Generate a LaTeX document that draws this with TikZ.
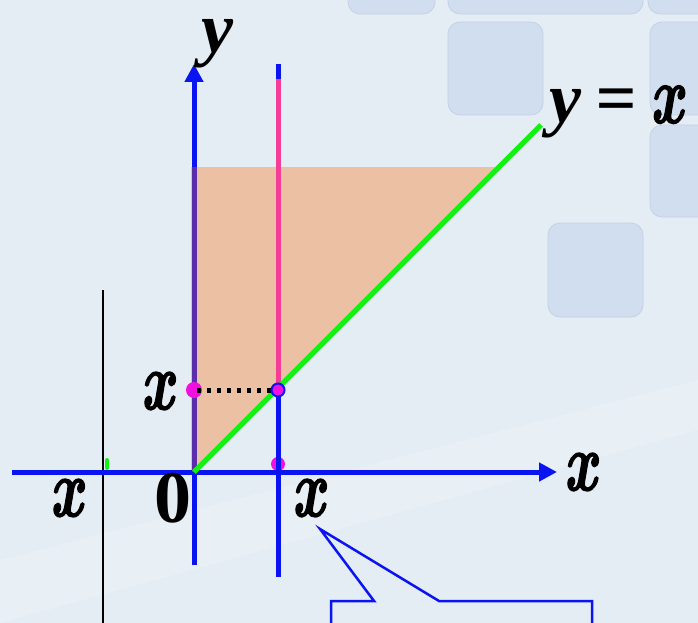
\documentclass[tikz,border=0pt]{standalone}
\usepackage{fontspec}
\newfontfamily\libfont{Liberation Serif}
\newfontfamily\lmxfont[FakeBold=1.6]{Latin Modern Roman}
\usetikzlibrary{arrows.meta}
\definecolor{bg}{HTML}{E4ECF4}
\definecolor{tile}{HTML}{D0DEEF}
\definecolor{tileedge}{HTML}{C2D2E4}
\definecolor{axisblue}{HTML}{0A14F0}
\definecolor{region}{HTML}{EBC0A3}
\definecolor{purp}{HTML}{5A2DAA}
\definecolor{pinkline}{HTML}{F53C96}
\definecolor{mag}{HTML}{F010E0}
\definecolor{lgreen}{HTML}{14F014}
\newcommand{\curlyx}{\scalebox{0.8}[1.15]{\lmxfont\bfseries\itshape x}}
\tikzset{
  tilebox/.style={fill=tile,draw=tileedge,line width=0.8pt,rounded corners=12pt},
  axisline/.style={draw=axisblue,line width=5pt},
  arrowtip/.style={-{Triangle[length=18pt,width=18pt]}},
  lbl/.style={inner sep=0pt,font=\fontsize{72}{72}\selectfont},
  lbllib/.style={inner sep=0pt,font=\fontsize{72}{72}\selectfont\libfont\bfseries\itshape},
  lblup/.style={inner sep=0pt,font=\fontsize{74}{74}\selectfont\libfont\bfseries},
  dotm/.style={fill=mag},
}
\begin{document}
\begin{tikzpicture}[x=1pt,y=-1pt]
\useasboundingbox (0,0) rectangle (698,623);
\clip (0,0) rectangle (698,623);
\fill[bg] (0,0) rectangle (698,623);
\fill[white,opacity=0.18] (0,560) -- (698,380) -- (698,430) -- (0,623) -- cycle;
% tiles
\draw[tilebox] (348,-20) rectangle (435,14);
\draw[tilebox] (448,-20) rectangle (643,14);
\draw[tilebox] (648,-20) rectangle (720,14);
\draw[tilebox] (448,22) rectangle (543,115);
\draw[tilebox] (650,22) rectangle (720,115);
\draw[tilebox] (650,125) rectangle (720,217);
\draw[tilebox] (548,223) rectangle (643,317);
% coordinates
\coordinate (O) at (194,472);
\coordinate (Ytop) at (194,64);
\coordinate (Ybot) at (194,565);
\coordinate (Xleft) at (12,472);
\coordinate (Xright) at (557,472);
\coordinate (R1) at (194,167);
\coordinate (R2) at (499,167);
\coordinate (G2) at (541,125);
\coordinate (Ptop) at (278,64);
\coordinate (Ppk) at (278,79);
\coordinate (P) at (278,390);
\coordinate (Pbot) at (278,577);
\coordinate (Q) at (194,390);
\coordinate (Px) at (278,464);
% thin black line
\draw[black,line width=1.5pt] (103,290) -- (103,640);
\draw[lgreen,line width=4pt,line cap=round] (107,468) -- (107,460);
% region
\fill[region] (191,472) -- (191,167) -- (R2) -- cycle;
% dots under axis
\fill[dotm] (Px) circle (7);
% axes
\draw[axisline,arrowtip] (Xleft) -- (Xright);
\draw[axisline,arrowtip] (Ybot) -- (Ytop);
\draw[purp,line width=5pt] (R1) -- (O);
% vertical line through x
\draw[axisline] (Ptop) -- (Pbot);
\draw[pinkline,line width=5pt] (Ppk) -- (P);
% green y=x
\draw[lgreen,line width=5pt] (O) -- (G2);
% dotted
\draw[black,line width=5pt,dash pattern=on 4pt off 6pt] (197,390) -- (276,390);
\fill[dotm] (Q) circle (8);
\filldraw[fill=mag,draw=axisblue,line width=2pt] (P) circle (6.5);
\draw[black,line width=5pt,dash pattern=on 4pt off 6pt] (197,390) -- (205,390);
% labels
\node[lbllib] (ly) at (217,44) {y};
\node[lbllib,anchor=base west] (lyx) at (549,123) {y\hspace{14pt}=\hspace{14pt}\curlyx};
\node[lbl] (lxq) at (157,391) {\curlyx};
\node[lbl] (lxl) at (66,498) {\curlyx};
\node[lblup] (l0) at (173,498) {0};
\node[lbl] (lxp) at (308,498) {\curlyx};
\node[lbl] (lxr) at (580,472) {\curlyx};
% callout
\draw[axisblue,line width=2.5pt,line join=miter] (331,640) -- (331,601) -- (374,601) -- (320,529) -- (439,601) -- (592,601) -- (592,640);
\end{tikzpicture}
\end{document}
